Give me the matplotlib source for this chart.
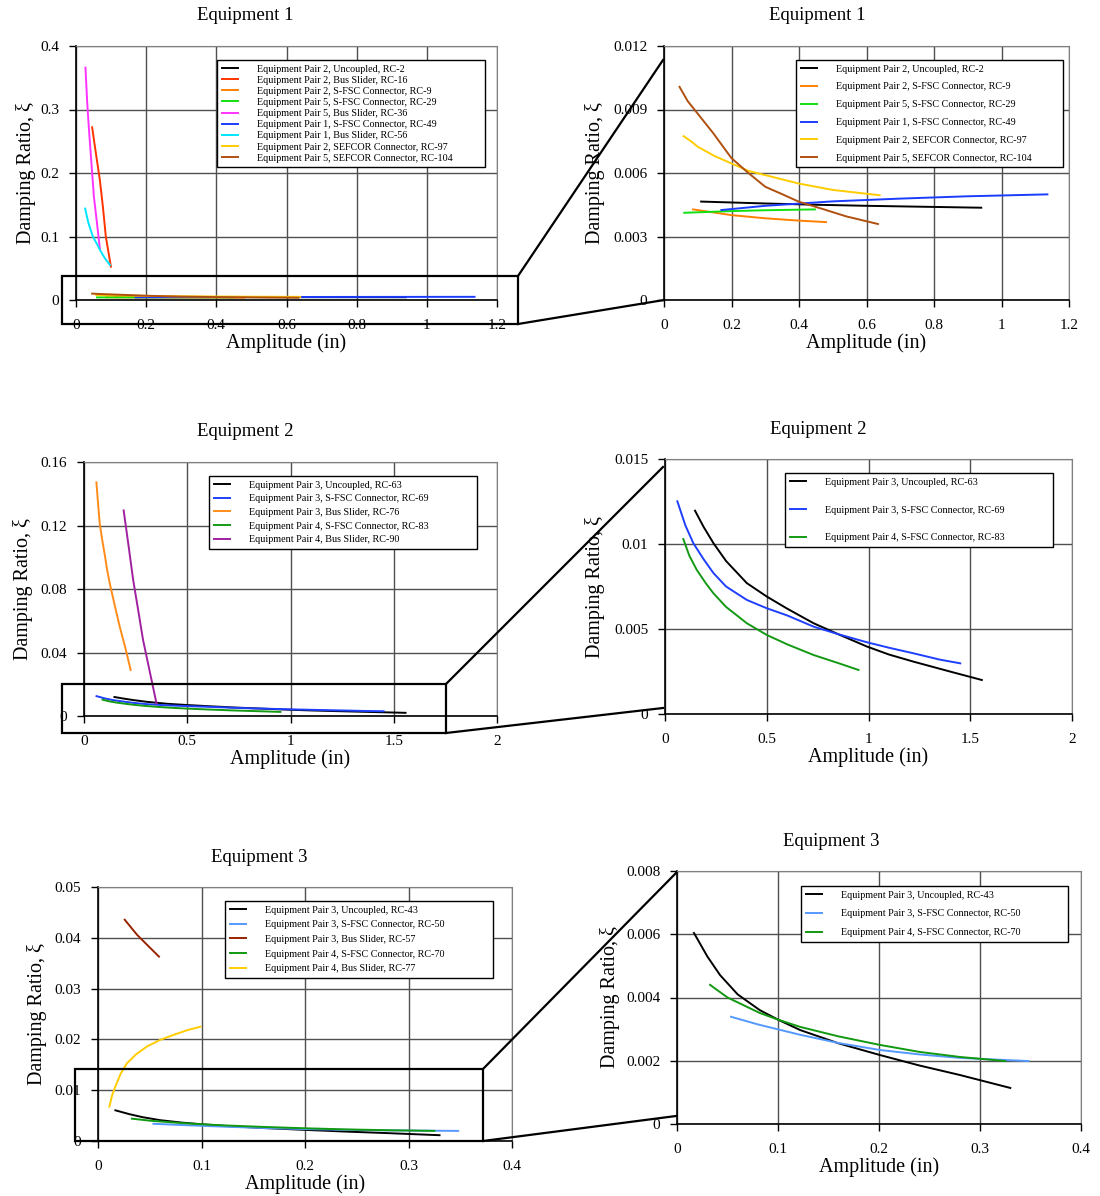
import matplotlib.pyplot as plt
from matplotlib.lines import Line2D
from matplotlib.patches import Rectangle
from matplotlib.ticker import FuncFormatter, MultipleLocator

plt.rcParams["font.family"] = ["Liberation Serif", "DejaVu Serif"]

W, H = 1100, 1196

# ---- Equipment 1 ----
rc2_x = [0.11, 0.3, 0.45, 0.6, 0.94]
rc2_y = [0.00465, 0.00456, 0.00450, 0.00445, 0.00436]
rc16_x = [0.046, 0.057, 0.068, 0.077, 0.085, 0.0995]
rc16_y = [0.272, 0.23, 0.189, 0.145, 0.10, 0.0525]
rc9_x = [0.086, 0.2, 0.3, 0.4, 0.48]
rc9_y = [0.00428, 0.00401, 0.00386, 0.00375, 0.00368]
rc29_x = [0.06, 0.2, 0.3, 0.447]
rc29_y = [0.00412, 0.00420, 0.00424, 0.00428]
rc36_x = [0.027, 0.032, 0.037, 0.044, 0.051, 0.06, 0.068]
rc36_y = [0.366, 0.31, 0.268, 0.215, 0.163, 0.12, 0.081]
rc49_x = [0.17, 0.3, 0.5, 0.7, 0.9, 1.136]
rc49_y = [0.00425, 0.00445, 0.00466, 0.00479, 0.00490, 0.00499]
rc56_x = [0.026, 0.035, 0.048, 0.06, 0.068, 0.082, 0.097]
rc56_y = [0.144, 0.122, 0.10, 0.088, 0.079, 0.066, 0.055]
rc97_x = [0.058, 0.08, 0.1, 0.15, 0.2, 0.25, 0.3, 0.4, 0.5, 0.639]
rc97_y = [0.00774, 0.0075, 0.00724, 0.0068, 0.00645, 0.0061, 0.0059, 0.0055, 0.0052, 0.00495]
rc104_x = [0.046, 0.07, 0.1, 0.145, 0.2, 0.25, 0.3, 0.35, 0.4, 0.47, 0.54, 0.634]
rc104_y = [0.01007, 0.0094, 0.0088, 0.0079, 0.0067, 0.0060, 0.00535, 0.0050, 0.00464,
           0.0043, 0.00395, 0.00359]

# ---- Equipment 2 ----
rc63_x = [0.1475, 0.19, 0.238, 0.3, 0.402, 0.5, 0.6, 0.73, 0.85, 0.992, 1.1, 1.221, 1.4, 1.557]
rc63_y = [0.01196, 0.0110, 0.01005, 0.0090, 0.0077, 0.00691, 0.0062, 0.00534, 0.0047,
          0.00397, 0.0035, 0.00308, 0.0025, 0.0020]
rc69_x = [0.0607, 0.1, 0.139, 0.19, 0.238, 0.3, 0.402, 0.5, 0.6, 0.73, 0.85, 0.992, 1.1,
          1.221, 1.35, 1.451]
rc69_y = [0.01251, 0.0111, 0.01005, 0.0091, 0.00829, 0.0075, 0.00671, 0.00622, 0.0058,
          0.00514, 0.0047, 0.00422, 0.0039, 0.00357, 0.0032, 0.00298]
rc76_x = [0.06, 0.068, 0.076, 0.088, 0.1, 0.112, 0.1245, 0.15, 0.173, 0.2, 0.226]
rc76_y = [0.1472, 0.134, 0.1215, 0.111, 0.102, 0.092, 0.0837, 0.069, 0.0563, 0.043, 0.029]
rc83_x = [0.09, 0.12, 0.156, 0.2, 0.238, 0.3, 0.402, 0.5, 0.6, 0.73, 0.85, 0.951]
rc83_y = [0.01029, 0.0093, 0.00848, 0.0077, 0.0071, 0.0063, 0.00534, 0.00465, 0.0041,
          0.00347, 0.0030, 0.00259]
rc90_x = [0.192, 0.215, 0.238, 0.262, 0.286, 0.32, 0.351]
rc90_y = [0.1295, 0.108, 0.0858, 0.067, 0.0479, 0.027, 0.008]

# ---- Equipment 3 ----
rc43_x = [0.0168, 0.03, 0.0426, 0.06, 0.082, 0.1, 0.122, 0.16, 0.201, 0.24, 0.28, 0.33]
rc43_y = [0.00604, 0.0053, 0.00471, 0.0041, 0.0036, 0.0033, 0.00297, 0.00255, 0.00218,
          0.00185, 0.00155, 0.00114]
rc50_x = [0.0535, 0.08, 0.122, 0.16, 0.201, 0.24, 0.28, 0.348]
rc50_y = [0.00339, 0.00315, 0.00282, 0.00256, 0.00234, 0.0022, 0.00209, 0.00199]
rc57_x = [0.0258, 0.0377, 0.048, 0.0589]
rc57_y = [0.04356, 0.0406, 0.0385, 0.0363]
rc70_x = [0.0327, 0.05, 0.082, 0.1, 0.122, 0.16, 0.201, 0.24, 0.28, 0.325]
rc70_y = [0.0044, 0.0040, 0.00351, 0.0033, 0.00307, 0.00277, 0.0025, 0.00228, 0.00212, 0.00199]
rc77_x = [0.011, 0.0135, 0.0167, 0.022, 0.028, 0.037, 0.0473, 0.06, 0.0731, 0.086, 0.0989]
rc77_y = [0.00677, 0.0089, 0.0107, 0.0133, 0.0153, 0.0171, 0.0186, 0.0199, 0.0209, 0.0218,
          0.0225]

s_rc2 = (rc2_x, rc2_y, "Equipment Pair 2, Uncoupled, RC-2", "black")
s_rc16 = (rc16_x, rc16_y, "Equipment Pair 2, Bus Slider, RC-16", "#ff3300")
s_rc9 = (rc9_x, rc9_y, "Equipment Pair 2, S-FSC Connector, RC-9", "#ff8000")
s_rc29 = (rc29_x, rc29_y, "Equipment Pair 5, S-FSC Connector, RC-29", "#11e011")
s_rc36 = (rc36_x, rc36_y, "Equipment Pair 5, Bus Slider, RC-36", "#ff33ff")
s_rc49 = (rc49_x, rc49_y, "Equipment Pair 1, S-FSC Connector, RC-49", "#1a3cff")
s_rc56 = (rc56_x, rc56_y, "Equipment Pair 1, Bus Slider, RC-56", "#00e5ff")
s_rc97 = (rc97_x, rc97_y, "Equipment Pair 2, SEFCOR Connector, RC-97", "#ffcc00")
s_rc104 = (rc104_x, rc104_y, "Equipment Pair 5, SEFCOR Connector, RC-104", "#b0500f")
s_rc63 = (rc63_x, rc63_y, "Equipment Pair 3, Uncoupled, RC-63", "black")
s_rc69 = (rc69_x, rc69_y, "Equipment Pair 3, S-FSC Connector, RC-69", "#1f3fff")
s_rc76 = (rc76_x, rc76_y, "Equipment Pair 3, Bus Slider, RC-76", "#ff8c1a")
s_rc83 = (rc83_x, rc83_y, "Equipment Pair 4, S-FSC Connector, RC-83", "#149914")
s_rc90 = (rc90_x, rc90_y, "Equipment Pair 4, Bus Slider, RC-90", "#a020a0")
s_rc43 = (rc43_x, rc43_y, "Equipment Pair 3, Uncoupled, RC-43", "black")
s_rc50 = (rc50_x, rc50_y, "Equipment Pair 3, S-FSC Connector, RC-50", "#5599ff")
s_rc57 = (rc57_x, rc57_y, "Equipment Pair 3, Bus Slider, RC-57", "#992200")
s_rc70 = (rc70_x, rc70_y, "Equipment Pair 4, S-FSC Connector, RC-70", "#119911")
s_rc77 = (rc77_x, rc77_y, "Equipment Pair 4, Bus Slider, RC-77", "#ffcc00")

panels = [
    # title, title pos, axes px (l, t, r, b), xmax, xstep, ymax, ystep, series, legend px, labelspacing, ylabel x
    ("Equipment 1", (245, 15), (76, 46, 497, 300), 1.2, 0.2, 0.4, 0.1,
     [s_rc2, s_rc16, s_rc9, s_rc29, s_rc36, s_rc49, s_rc56, s_rc97, s_rc104],
     (217, 60, 485, 167), 0.2, -0.095),
    ("Equipment 1", (817, 15), (664, 46, 1069, 300), 1.2, 0.2, 0.012, 0.003,
     [s_rc2, s_rc9, s_rc29, s_rc49, s_rc97, s_rc104],
     (796, 60, 1063, 167), 0.86, -0.146),
    ("Equipment 2", (245, 432), (84, 462, 497, 716), 2, 0.5, 0.16, 0.04,
     [s_rc63, s_rc69, s_rc76, s_rc83, s_rc90],
     (209, 476, 477, 549), 0.45, -0.123),
    ("Equipment 2", (818, 429), (665, 459, 1072, 714), 2, 0.5, 0.015, 0.005,
     [s_rc63, s_rc69, s_rc83],
     (785, 473, 1053, 547), 1.85, -0.147),
    ("Equipment 3", (259, 857), (98, 887, 512, 1141), 0.4, 0.1, 0.05, 0.01,
     [s_rc43, s_rc50, s_rc57, s_rc70, s_rc77],
     (225, 901, 493, 978), 0.55, -0.123),
    ("Equipment 3", (831, 842), (677, 871, 1081, 1124), 0.4, 0.1, 0.008, 0.002,
     [s_rc43, s_rc50, s_rc70],
     (801, 886, 1068, 942), 0.95, -0.141),
]

# zoom boxes (px) and connector lines toward the detail plots
zoom_boxes = [
    ((62, 276, 518, 324), ((518, 276), (663, 60)), ((518, 324), (664, 300))),
    ((62, 684, 446, 733), ((446, 684), (663, 467)), ((446, 733), (663, 708))),
    ((75, 1069, 483, 1141), ((483, 1069), (676, 873)), ((483, 1141), (676, 1116))),
]


def fx(px):
    return px / W


def fy(py):
    return 1 - py / H


def tick_fmt(v, pos):
    return f"{round(v, 6):g}"


fig = plt.figure(figsize=(W / 100, H / 100), dpi=100)

for (title, tpos, box, xmax, xstep, ymax, ystep, series, leg, lsp, ylx) in panels:
    l, t, r, b = box
    ax = fig.add_axes([fx(l), fy(b), fx(r - l), (b - t) / H])
    for xs, ys, label, color in series:
        ax.plot(xs, ys, color=color, lw=1.4, label=label)
    ax.set_xlim(0, xmax)
    ax.set_ylim(0, ymax)
    ax.xaxis.set_major_locator(MultipleLocator(xstep))
    ax.yaxis.set_major_locator(MultipleLocator(ystep))
    ax.xaxis.set_major_formatter(FuncFormatter(tick_fmt))
    ax.yaxis.set_major_formatter(FuncFormatter(tick_fmt))
    ax.grid(True, color="#505050", lw=1.0)
    ax.set_axisbelow(True)
    for side in ("top", "right"):
        ax.spines[side].set_color("#808080")
    for side in ("left", "bottom"):
        ax.spines[side].set_color("black")
        ax.spines[side].set_linewidth(1.2)
    ax.tick_params(direction="out", length=5, width=1, labelsize=11, pad=7)
    ax.tick_params(axis="x", pad=9)
    ax.set_xlabel("Amplitude (in)", fontsize=14.5)
    ax.set_ylabel("Damping Ratio, ξ", fontsize=14.5)
    ax.xaxis.set_label_coords(0.5, -0.13)
    ax.yaxis.set_label_coords(ylx, 0.5)
    lx0, ly0, lx1, ly1 = leg
    ax.legend(loc="upper left", bbox_to_anchor=(fx(lx0), fy(ly1), fx(lx1 - lx0), (ly1 - ly0) / H),
              bbox_transform=fig.transFigure, mode="expand", fontsize=7.3,
              frameon=True, fancybox=False, edgecolor="black", framealpha=1,
              borderpad=0.45, borderaxespad=0, labelspacing=lsp,
              handlelength=1.6, handletextpad=1.9)
    ax.get_legend().get_frame().set_linewidth(1.0)
    fig.text(fx(tpos[0]), fy(tpos[1]), title, ha="center", va="center", fontsize=13.5)

for (rl, rt, rr, rb), up, low in zoom_boxes:
    fig.add_artist(Rectangle((fx(rl), fy(rb)), fx(rr - rl), (rb - rt) / H, fill=False,
                             edgecolor="black", lw=1.6, transform=fig.transFigure))
    for (x0, y0), (x1, y1) in (up, low):
        fig.add_artist(Line2D([fx(x0), fx(x1)], [fy(y0), fy(y1)], color="black", lw=1.6,
                              transform=fig.transFigure))

fig.savefig("out.png", dpi=100)
